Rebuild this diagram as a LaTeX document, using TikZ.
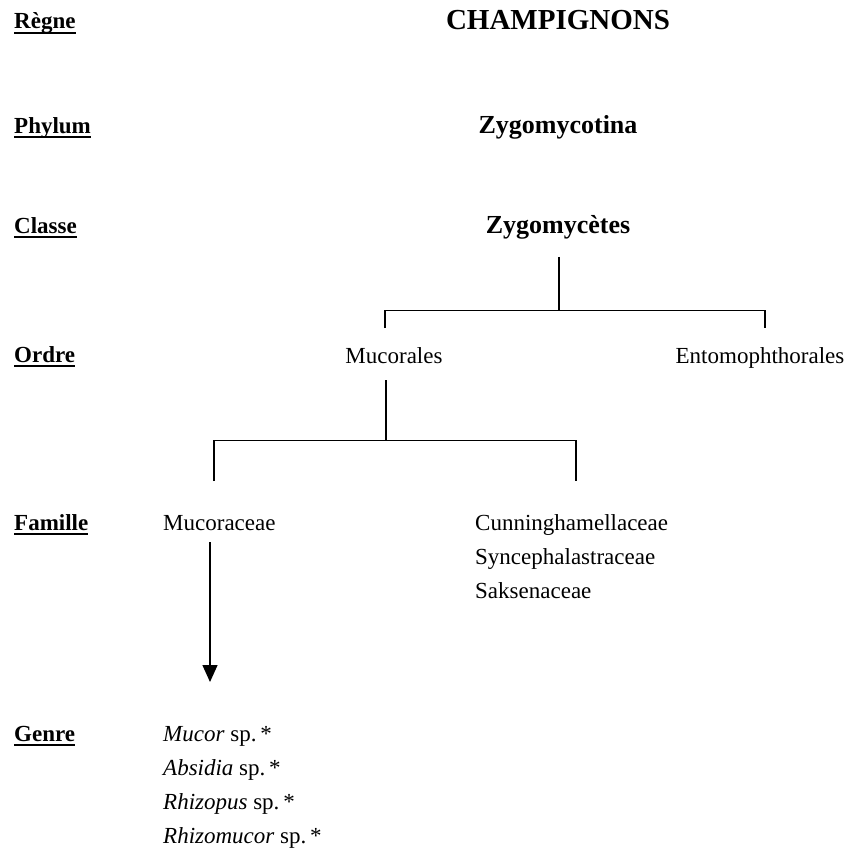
\documentclass[tikz,border=0pt]{standalone}
\usepackage{fontspec}
\setmainfont{Liberation Serif}
\usetikzlibrary{arrows.meta}
\newcommand{\rangfont}{\fontsize{23}{28}\selectfont\bfseries}
\newcommand{\taxfont}{\fontsize{23}{28}\selectfont}
\begin{document}
\begin{tikzpicture}[x=1pt,y=-1pt,
    rang/.style={anchor=base west,inner sep=0pt,font=\rangfont},
    taxon/.style={anchor=base,inner sep=0pt,font=\taxfont},
    taxleft/.style={anchor=base west,inner sep=0pt,font=\taxfont},
    souligne/.style={line width=1.5pt},
    tree/.style={line width=1.8pt}]
    \useasboundingbox (0,0) rectangle (847,848);
    \node (r0) at (14,29) [rang]{Règne};
    \node (r1) at (14,133) [rang]{Phylum};
    \node (r2) at (14,233) [rang]{Classe};
    \node (r3) at (14,362) [rang]{Ordre};
    \node (r4) at (14,530) [rang]{Famille};
    \node (r5) at (14,741) [rang]{Genre};
    \foreach \r in {r0,r1,r2,r3,r4,r5}
      \draw[souligne] ([yshift=-4pt]\r.base west) -- ([yshift=-4pt]\r.base east);
    \node (t0) at (558,30) [taxon,font=\fontsize{29}{34}\selectfont\bfseries]{CHAMPIGNONS};
    \node (t1) at (558,133) [taxon,font=\fontsize{26}{30}\selectfont\bfseries]{Zygomycotina};
    \node (t2) at (558,233) [taxon,font=\fontsize{26}{30}\selectfont\bfseries]{Zygomycètes};
    \node (o1) at (394,363) [taxon]{Mucorales};
    \node (o2) at (760,363) [taxon]{Entomophthorales};
    \node (f1) at (163,530) [taxleft]{Mucoraceae};
    \node (f2) at (475,530) [taxleft]{Cunninghamellaceae};
    \node (f3) at (475,564) [taxleft]{Syncephalastraceae};
    \node (f4) at (475,598) [taxleft]{Saksenaceae};
    \node (g1) at (163,741) [taxleft]{\textit{Mucor} sp.\,*};
    \node (g2) at (163,775) [taxleft]{\textit{Absidia} sp.\,*};
    \node (g3) at (163,809) [taxleft]{\textit{Rhizopus} sp.\,*};
    \node (g4) at (163,843) [taxleft]{\textit{Rhizomucor} sp.\,*};
    \coordinate (k1) at (559,310.5);
    \coordinate (k2) at (386,440.5);
    \coordinate (b1) at (385,328);
    \coordinate (b2) at (765,328);
    \coordinate (b3) at (214,481);
    \coordinate (b4) at (576,481);
    \coordinate (a1) at (210,682);
    \draw[tree] (t2.south -| k1) ++(0,18) -- (k1);
    \draw[tree] (b1) |- (k1) -| (b2);
    \draw[tree,shorten <=17pt] (o1.south -| k2) -- (k2);
    \draw[tree] (b3) |- (k2) -| (b4);
    \draw[line width=1.4pt,shorten <=12pt,-{Triangle[length=17pt,width=15pt]}] (f1.south -| a1) -- (a1);
  \end{tikzpicture}
\end{document}
